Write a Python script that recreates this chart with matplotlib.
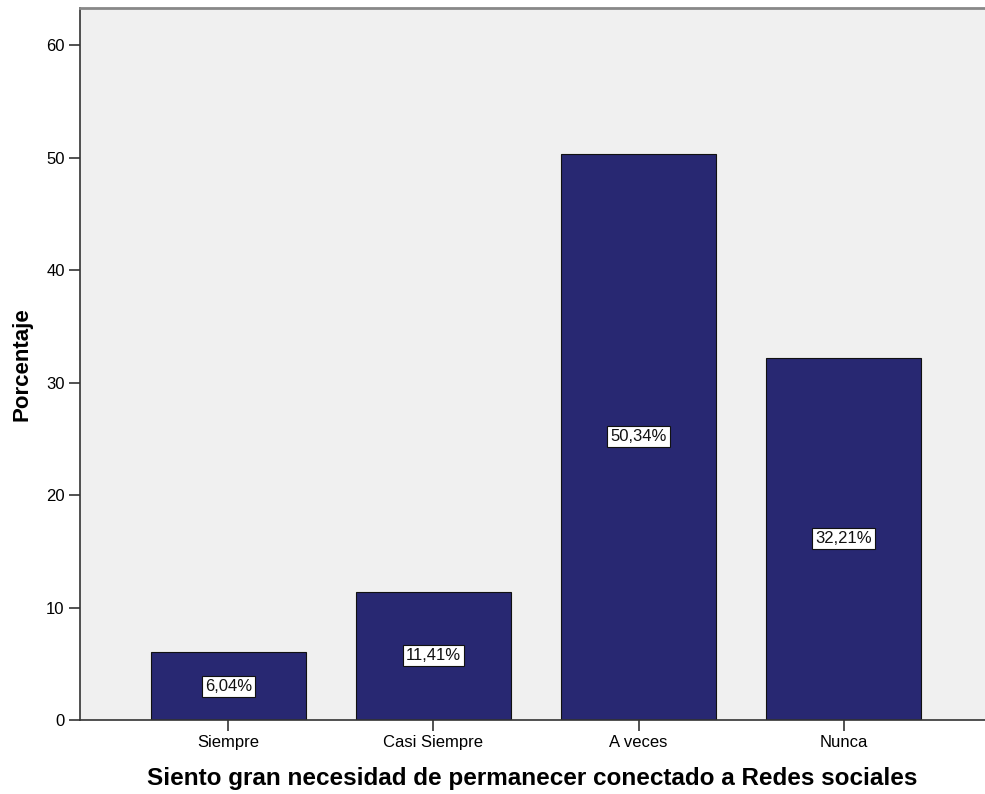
import matplotlib
matplotlib.use("Agg")
import matplotlib.pyplot as plt

plt.rcParams["font.family"] = ["Liberation Sans", "DejaVu Sans"]

categories = ["Siempre", "Casi Siempre", "A veces", "Nunca"]
values = [6.04, 11.41, 50.34, 32.21]
labels = ["6,04%", "11,41%", "50,34%", "32,21%"]
yticks = [0, 10, 20, 30, 40, 50, 60]

fig = plt.figure(figsize=(9.85, 7.94), dpi=100)
ax = fig.add_axes([80 / 985, 74 / 794, 905 / 985, 712 / 794])
ax.set_facecolor("#F0F0F0")

x = range(len(categories))
ax.bar(x, values, width=0.756, color="#282872", edgecolor="#111111", linewidth=0.8, zorder=2)
for xi, v, lab in zip(x, values, labels):
    ax.text(xi, v / 2, lab, ha="center", va="center", fontsize=12, color="#111111", zorder=3,
            bbox=dict(boxstyle="square,pad=0.18", fc="white", ec="#111111", lw=0.8))

ax.set_xlim(-0.724, 3.69)
ax.set_ylim(0, 63.3)
ax.set_xticks(list(x))
ax.set_xticklabels(categories, fontsize=12)
ax.set_yticks(yticks)
ax.set_yticklabels([str(t) for t in yticks], fontsize=12)
ax.tick_params(direction="out", length=8, width=1.2, color="#333333", pad=3)

ax.spines["right"].set_visible(False)
ax.spines["top"].set_color("#888888")
ax.spines["top"].set_linewidth(2)
ax.spines["left"].set_color("#333333")
ax.spines["left"].set_linewidth(1.2)
ax.spines["bottom"].set_color("#333333")
ax.spines["bottom"].set_linewidth(1.2)

ax.set_ylabel("Porcentaje", fontsize=16, fontweight="bold", labelpad=10)
ax.set_xlabel("Siento gran necesidad de permanecer conectado a Redes sociales",
              fontsize=17.5, fontweight="bold", labelpad=12)

fig.savefig("out.png", dpi=100)
